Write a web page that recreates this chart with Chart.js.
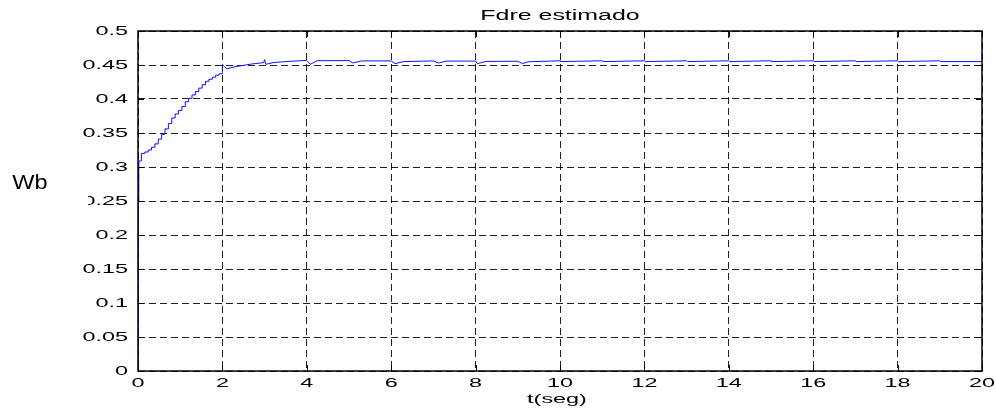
<!DOCTYPE html>
<html>
<head>
<meta charset="utf-8">
<script src="https://cdn.jsdelivr.net/npm/chart.js@4"></script>
<style>
  html, body { margin: 0; padding: 0; background: #fff; }
  #wrap { width: 996px; height: 409px; }
</style>
</head>
<body>
<div id="wrap"><canvas id="c" width="996" height="409"></canvas></div>
<script>
// Estimated rotor flux (Wb) against time (s)
// Start-up: sampled estimator output, drawn as a staircase
const riseTime = [
  0, 0.005, 0.02, 0.06, 0.08, 0.16, 0.24, 0.32, 0.40, 0.48, 0.56, 0.64, 0.72, 0.80,
  0.88, 0.96, 1.04, 1.12, 1.20, 1.28, 1.36, 1.44, 1.52, 1.60, 1.68, 1.76, 1.84, 1.92, 2.0
];
const riseFlux = [
  0, 0.25, 0.309, 0.309, 0.320, 0.322, 0.325, 0.329, 0.334, 0.341, 0.348, 0.356, 0.364, 0.372,
  0.378, 0.383, 0.389, 0.396, 0.401, 0.406, 0.411, 0.416, 0.421, 0.426, 0.429, 0.432, 0.435, 0.437, 0.439
];
// Settled part with the small disturbances
const settleTime = [
  2.0, 2.0, 2.05, 2.11, 2.3, 2.5, 2.7, 2.98, 3.0, 3.03, 3.2, 3.5, 3.98,
  4.0, 4.08, 4.25, 5.0, 5.09, 5.3, 6.0, 6.09, 6.3, 7.0, 7.12, 7.3,
  8.0, 8.04, 8.25, 9.0, 9.11, 9.25,
  10, 10.02, 11, 11.02, 12, 12.02, 13, 13.02, 14, 14.02,
  15, 15.02, 16, 16.02, 17, 17.02, 18, 18.02, 19, 19.02, 20
];
const settleFlux = [
  0.439, 0.4505, 0.4475, 0.4445, 0.4475, 0.4495, 0.4515, 0.4535, 0.458, 0.451, 0.4535, 0.455, 0.4567,
  0.4567, 0.451, 0.4563, 0.4565, 0.453, 0.456, 0.456, 0.452, 0.455, 0.456, 0.4529, 0.4557,
  0.4558, 0.452, 0.4553, 0.4555, 0.452, 0.4548,
  0.4562, 0.455, 0.4562, 0.455, 0.4562, 0.455, 0.4562, 0.455, 0.4562, 0.455,
  0.4562, 0.455, 0.4562, 0.455, 0.4562, 0.455, 0.4562, 0.455, 0.4562, 0.455, 0.455
];
const xTicks = [0, 2, 4, 6, 8, 10, 12, 14, 16, 18, 20];
const xTickLabels = ['0', '2', '4', '6', '8', '10', '12', '14', '16', '18', '20'];
const yTicks = [0, 0.05, 0.1, 0.15, 0.2, 0.25, 0.3, 0.35, 0.4, 0.45, 0.5];
const yTickLabels = ['0', '0.05', '0.1', '0.15', '0.2', '0.25', '0.3', '0.35', '0.4', '0.45', '0.5'];
const titleText = 'Fdre estimado';
const xTitle = 't(seg)';
const yTitle = 'Wb';

const FONT = '"Liberation Sans", Arial, sans-serif';
const STRETCH = 1.8; // wide lettering of the axis texts

function wideText(ctx, text, x, y, size, align, stretch) {
  ctx.save();
  ctx.font = size + 'px ' + FONT;
  ctx.fillStyle = '#000';
  ctx.textAlign = align;
  ctx.textBaseline = 'middle';
  ctx.scale(stretch, 1);
  ctx.fillText(text, x / stretch, y);
  ctx.restore();
}

// Frame, inward tick marks and all texts
const framePlugin = {
  id: 'frame',
  afterDraw(chart) {
    const ctx = chart.ctx;
    const a = chart.chartArea;
    const xs = chart.scales.x, ys = chart.scales.y;
    ctx.save();
    ctx.strokeStyle = '#000';
    ctx.lineWidth = 1.5;
    ctx.strokeRect(a.left, a.top, a.right - a.left, a.bottom - a.top);
    ctx.lineWidth = 1;
    ctx.beginPath();
    xTicks.forEach(v => {
      const px = Math.round(xs.getPixelForValue(v)) + 0.5;
      ctx.moveTo(px, a.bottom); ctx.lineTo(px, a.bottom - 6);
      ctx.moveTo(px, a.top); ctx.lineTo(px, a.top + 6);
    });
    yTicks.forEach(v => {
      const py = Math.round(ys.getPixelForValue(v)) + 0.5;
      ctx.moveTo(a.left, py); ctx.lineTo(a.left + 6, py);
      ctx.moveTo(a.right, py); ctx.lineTo(a.right - 6, py);
    });
    ctx.stroke();
    ctx.restore();

    xTicks.forEach((v, i) => {
      wideText(ctx, xTickLabels[i], xs.getPixelForValue(v), a.bottom + 12, 13, 'center', STRETCH);
    });
    yTicks.forEach((v, i) => {
      wideText(ctx, yTickLabels[i], a.left - 10, ys.getPixelForValue(v), 13, 'right', STRETCH);
    });
    const cx = (a.left + a.right) / 2;
    wideText(ctx, titleText, cx, 16, 14, 'center', 1.78);
    wideText(ctx, xTitle, cx - 3, 399, 13, 'center', STRETCH);

    // unit label sits on its own white box
    ctx.save();
    ctx.fillStyle = '#fff';
    ctx.fillRect(0, 150, 88, 60);
    ctx.restore();
    wideText(ctx, yTitle, 30, 183, 21, 'center', 1.12);
  }
};

const lineStyle = {
  borderColor: '#1010ff',
  borderWidth: 1,
  pointRadius: 0,
  tension: 0,
  fill: false
};

new Chart(document.getElementById('c'), {
  type: 'line',
  data: {
    datasets: [
      Object.assign({ data: riseTime.map((t, i) => ({ x: t, y: riseFlux[i] })), stepped: 'before' }, lineStyle),
      Object.assign({ data: settleTime.map((t, i) => ({ x: t, y: settleFlux[i] })) }, lineStyle)
    ]
  },
  options: {
    responsive: false,
    animation: false,
    devicePixelRatio: 1,
    layout: { padding: { left: 138, right: 14, top: 31, bottom: 38 } },
    plugins: { legend: { display: false }, tooltip: { enabled: false } },
    scales: {
      x: {
        type: 'linear', min: 0, max: 20,
        afterBuildTicks: s => { s.ticks = xTicks.map(v => ({ value: v })); },
        ticks: { display: false },
        grid: { color: 'rgba(0,0,0,0.88)', lineWidth: 1, drawTicks: false },
        border: { display: false, dash: [7, 4] }
      },
      y: {
        type: 'linear', min: 0, max: 0.5,
        afterBuildTicks: s => { s.ticks = yTicks.map(v => ({ value: v })); },
        ticks: { display: false },
        grid: { color: 'rgba(0,0,0,0.88)', lineWidth: 1, drawTicks: false },
        border: { display: false, dash: [7, 4] }
      }
    }
  },
  plugins: [framePlugin]
});
</script>
</body>
</html>
